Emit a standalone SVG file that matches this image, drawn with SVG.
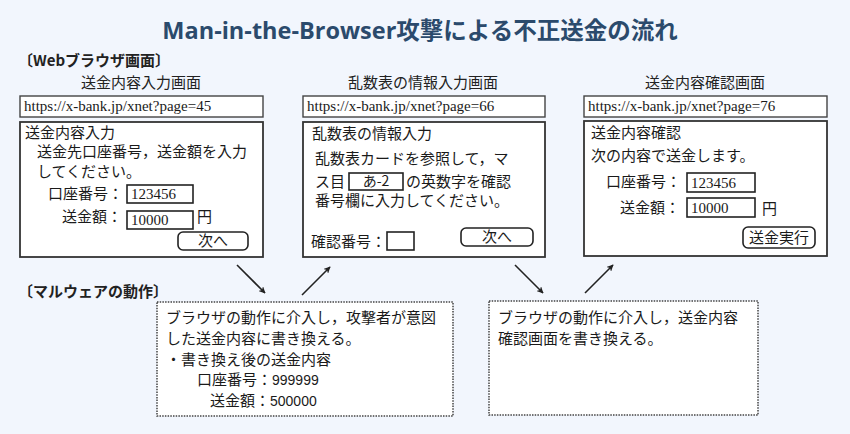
<svg xmlns="http://www.w3.org/2000/svg" width="850" height="434" viewBox="0 0 850 434">
<defs>
<style>
.bg{fill:#f2f6fd}
.title{font-family:"Open Sans","Noto Sans CJK JP",sans-serif;font-weight:bold;font-size:23.5px;fill:#2b4a6c}
.sec{font-family:"Noto Sans CJK JP",sans-serif;font-weight:bold;font-size:15px;fill:#222}
.cap{font-family:"Noto Sans CJK JP",sans-serif;font-size:15px;fill:#222}
.t{font-family:"Noto Sans CJK JP",sans-serif;font-size:15px;fill:#1a1a1a}
.s{font-family:"Noto Sans CJK JP",sans-serif;font-size:14px;fill:#1a1a1a}
.url{font-family:"Liberation Serif",serif;font-size:15px;fill:#1a1a1a}
.num{font-family:"Liberation Serif",serif;font-size:15px;fill:#1a1a1a}
.dn{font-family:"Liberation Sans",sans-serif;font-size:14px;fill:#1a1a1a}
.box{fill:#fff;stroke:#333;stroke-width:1.8}
.ubox{fill:#fff;stroke:#444;stroke-width:1.4}
.fld{fill:#fff;stroke:#222;stroke-width:1.6}
.btn{fill:#fff;stroke:#222;stroke-width:1.6}
.dot{fill:#fff;stroke:#444;stroke-width:1.5;stroke-dasharray:1.5 1.2}
.arr{stroke:#222;stroke-width:1.6;fill:none;marker-end:url(#ah)}
</style>
<marker id="ah" viewBox="0 0 10 10" refX="9" refY="5" markerWidth="7" markerHeight="7" orient="auto" markerUnits="userSpaceOnUse">
<path d="M0,0 L10,5 L0,10 L3,5 Z" fill="#222"/>
</marker>
</defs>
<rect class="bg" x="0" y="0" width="850" height="434"/>
<text class="title" x="420" y="39" text-anchor="middle">Man-in-the-Browser攻撃による不正送金の流れ</text>
<text class="sec" x="18" y="66">〔Webブラウザ画面〕</text>

<g id="screen1">
<text class="cap" x="141" y="88" text-anchor="middle">送金内容入力画面</text>
<rect class="ubox" x="20" y="96" width="243" height="21"/>
<text class="url" x="24" y="111">https://x-bank.jp/xnet?page=45</text>
<rect class="box" x="20" y="122" width="243" height="135"/>
<text class="t" x="25" y="138">送金内容入力</text>
<text class="t" x="37" y="157">送金先口座番号，送金額を入力</text>
<text class="t" x="37" y="177">してください。</text>
<text class="t" x="48" y="199">口座番号：</text>
<rect class="fld" x="127" y="185" width="66" height="18"/>
<text class="num" x="131" y="199">123456</text>
<text class="t" x="62" y="222">送金額：</text>
<rect class="fld" x="127" y="211" width="66" height="18"/>
<text class="num" x="131" y="225">10000</text>
<text class="t" x="197" y="222">円</text>
<rect class="btn" x="178" y="232" width="70" height="18" rx="5"/>
<text class="t" x="213" y="246" text-anchor="middle">次へ</text>
</g>

<g id="screen2">
<text class="cap" x="423" y="88" text-anchor="middle">乱数表の情報入力画面</text>
<rect class="ubox" x="303" y="96" width="242" height="21"/>
<text class="url" x="307" y="111">https://x-bank.jp/xnet?page=66</text>
<rect class="box" x="303" y="122" width="242" height="135"/>
<text class="t" x="312" y="139">乱数表の情報入力</text>
<text class="t" x="315" y="164">乱数表カードを参照して，マ</text>
<text class="t" x="315" y="187">ス目</text>
<rect class="fld" x="349" y="173" width="54" height="17"/>
<text class="s" x="376" y="186" text-anchor="middle">あ-2</text>
<text class="t" x="406" y="187">の英数字を確認</text>
<text class="t" x="315" y="206">番号欄に入力してください。</text>
<text class="t" x="311" y="247">確認番号：</text>
<rect class="fld" x="387" y="232" width="27" height="18"/>
<rect class="btn" x="461" y="228" width="72" height="18" rx="5"/>
<text class="t" x="497" y="242" text-anchor="middle">次へ</text>
</g>

<g id="screen3">
<text class="cap" x="705" y="88" text-anchor="middle">送金内容確認画面</text>
<rect class="ubox" x="584" y="96" width="243" height="21"/>
<text class="url" x="588" y="111">https://x-bank.jp/xnet?page=76</text>
<rect class="box" x="584" y="121" width="243" height="135"/>
<text class="t" x="591" y="138">送金内容確認</text>
<text class="t" x="591" y="161">次の内容で送金します。</text>
<text class="t" x="606" y="187">口座番号：</text>
<rect class="fld" x="687" y="173" width="68" height="19"/>
<text class="num" x="691" y="188">123456</text>
<text class="t" x="620" y="213">送金額：</text>
<rect class="fld" x="687" y="198" width="68" height="19"/>
<text class="num" x="691" y="213">10000</text>
<text class="t" x="762" y="214">円</text>
<rect class="btn" x="743" y="227" width="72" height="21" rx="5"/>
<text class="t" x="779" y="243" text-anchor="middle">送金実行</text>
</g>

<text class="sec" x="18" y="297">〔マルウェアの動作〕</text>

<g id="malware1">
<rect class="dot" x="157" y="302" width="296" height="114"/>
<text class="t" x="166" y="323">ブラウザの動作に介入し，攻撃者が意図</text>
<text class="t" x="166" y="344">した送金内容に書き換える。</text>
<text class="t" x="166" y="365">・書き換え後の送金内容</text>
<text class="t" x="197" y="385">口座番号：<tspan class="dn">999999</tspan></text>
<text class="t" x="210" y="406">送金額：<tspan class="dn">500000</tspan></text>
</g>

<g id="malware2">
<rect class="dot" x="489" y="301" width="269" height="114"/>
<text class="t" x="498" y="323">ブラウザの動作に介入し，送金内容</text>
<text class="t" x="498" y="344">確認画面を書き換える。</text>
</g>

<g id="connectors">
<line class="arr" x1="237" y1="265" x2="265" y2="293"/>
<line class="arr" x1="302" y1="295" x2="330" y2="267"/>
<line class="arr" x1="515" y1="265" x2="543" y2="293"/>
<line class="arr" x1="585" y1="293" x2="613" y2="265"/>
</g>
</svg>
